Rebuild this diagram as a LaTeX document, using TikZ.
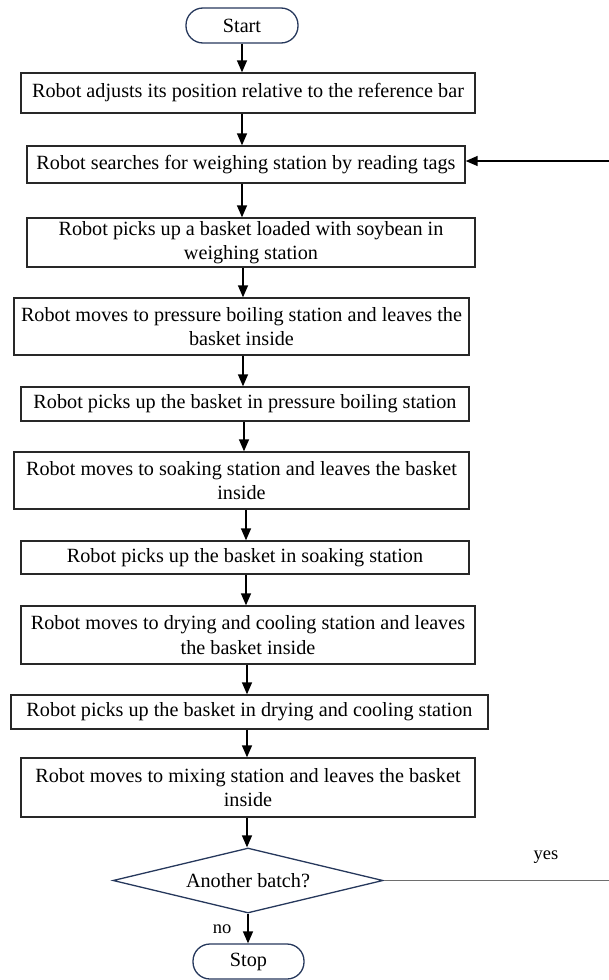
\documentclass[tikz,border=0pt]{standalone}
\usepackage{fontspec}
\setmainfont{Liberation Serif}
\usetikzlibrary{arrows.meta,shapes.geometric}
\definecolor{boxc}{RGB}{40,40,40}
\definecolor{navy}{RGB}{38,56,92}
\definecolor{yesc}{RGB}{110,110,110}
\newcommand{\myfs}{\fontsize{20.2}{24.5}\selectfont}
\tikzset{
  box/.style={draw=boxc, line width=1.4pt, inner sep=2pt, align=center, font=\myfs},
  term/.style={draw=navy, line width=1.3pt, rounded corners=17pt, align=center, font=\myfs, minimum width=112pt, minimum height=35pt},
  dec/.style={diamond, aspect=4.15, draw=navy, line width=1.3pt, inner sep=0pt, font=\myfs, minimum width=270pt, minimum height=65pt},
  arr/.style={line width=1.5pt, draw=black, -{Triangle[width=10pt,length=12pt]}},
  lbl/.style={font=\fontsize{18.5}{22}\selectfont, inner sep=0pt}
}
\begin{document}
\begin{tikzpicture}[x=1pt,y=-1pt]
\useasboundingbox (0,0) rectangle (609,980);
\node[term] (start) at (242,25.5) {Start};
\node[box, minimum width=454pt, minimum height=40pt] (b1) at (248,93) {Robot adjusts its position relative to the reference bar};
\node[box, minimum width=438pt, minimum height=37pt] (b2) at (246,164.5) {Robot searches for weighing station by reading tags};
\node[box, minimum width=448pt, minimum height=49pt] (b3) at (251,242.5) {Robot picks up a basket loaded with soybean in\\weighing station};
\node[box, minimum width=455pt, minimum height=57pt] (b4) at (241.5,326.5) {Robot moves to pressure boiling station and leaves the\\basket inside};
\node[box, minimum width=448pt, minimum height=34pt] (b5) at (245,404) {Robot picks up the basket in pressure boiling station};
\node[box, minimum width=455pt, minimum height=57pt] (b6) at (241.5,480.5) {Robot moves to soaking station and leaves the basket\\inside};
\node[box, minimum width=448pt, minimum height=33pt] (b7) at (245,557.5) {Robot picks up the basket in soaking station};
\node[box, minimum width=454pt, minimum height=58pt] (b8) at (248,635) {Robot moves to drying and cooling station and leaves\\the basket inside};
\node[box, minimum width=477pt, minimum height=34pt] (b9) at (249.5,712) {Robot picks up the basket in drying and cooling station};
\node[box, minimum width=454pt, minimum height=59pt] (b10) at (248,787.5) {Robot moves to mixing station and leaves the basket\\inside};
\node[dec] (dia) at (248,880.5) {Another batch?};
\node[term, minimum width=111pt, minimum height=35pt] (stop) at (248.5,961.5) {Stop};
\node[lbl] (yes) at (546,857) {yes};
\node[lbl] (no) at (222,929) {no};
\coordinate (r1) at (609,880.5);
\coordinate (r2) at (609,161);
% arrows
\draw[arr] (start.south) -- (start.south |- b1.north);
\draw[arr] ([xshift=-6pt]b1.south) -- ([xshift=-6pt]b1.south |- b2.north);
\draw[arr] ([xshift=-4pt]b2.south) -- ([xshift=-4pt]b2.south |- b3.north);
\draw[arr] ([xshift=-8pt]b3.south) -- ([xshift=-8pt]b3.south |- b4.north);
\draw[arr] ([xshift=1.5pt]b4.south) -- ([xshift=1.5pt]b4.south |- b5.north);
\draw[arr] ([xshift=-1pt]b5.south) -- ([xshift=-1pt]b5.south |- b6.north);
\draw[arr] ([xshift=4.5pt]b6.south) -- ([xshift=4.5pt]b6.south |- b7.north);
\draw[arr] ([xshift=1pt]b7.south) -- ([xshift=1pt]b7.south |- b8.north);
\draw[arr] ([xshift=-1pt]b8.south) -- ([xshift=-1pt]b8.south |- b9.north);
\draw[arr] ([xshift=-2.5pt]b9.south) -- ([xshift=-2.5pt]b9.south |- b10.north);
\draw[arr] ([xshift=-1pt]b10.south) -- ([xshift=-1pt]b10.south |- dia.north);
\draw[arr] (dia.south) -- (dia.south |- stop.north);
% yes loop
\draw[draw=yesc, line width=0.9pt] (dia.east) -- (r1);
\draw[arr] (r2) -- (r2 -| b2.east);
\end{tikzpicture}
\end{document}
